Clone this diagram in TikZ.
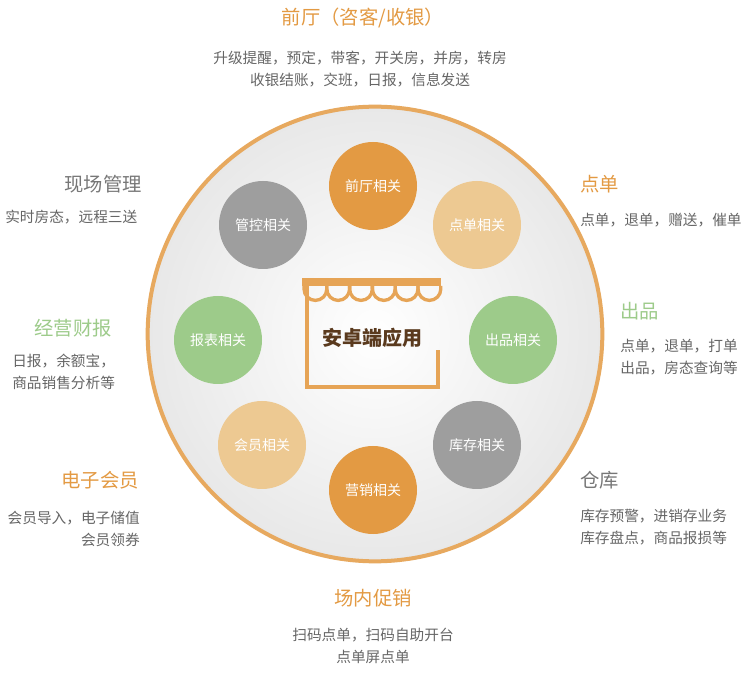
\documentclass[tikz,border=0pt]{standalone}
\usepackage{fontspec}
\setmainfont{Noto Sans CJK SC}
\usetikzlibrary{shadings}
\definecolor{cor}{HTML}{E39A43}
\definecolor{ctan}{HTML}{EDC992}
\definecolor{cgr}{HTML}{9DCB8A}
\definecolor{cgy}{HTML}{9E9E9E}
\definecolor{ctxt}{HTML}{666666}
\definecolor{ctit}{HTML}{777777}
\definecolor{cbrown}{HTML}{5A3A1E}
\begin{document}
\begin{tikzpicture}[x=0.75pt,y=-0.75pt,
  ball/.style={circle,minimum size=66pt,inner sep=0,text=white,font=\fontsize{10.5}{12}\selectfont},
  ttl/.style={font=\fontsize{14.5}{16}\selectfont,inner sep=0},
  dsc/.style={font=\fontsize{11}{16.5}\selectfont,text=ctxt,inner sep=0}]
\useasboundingbox (0,0) rectangle (750,673);
\fill[white] (0,0) rectangle (750,673);
\node[circle,minimum size=341pt,inner sep=0,draw=cor!85,line width=3pt,inner color=white,outer color=black!9] (big) at (375,334) {};
\node[ball,fill=cor] (qt) at (373,186) {前厅相关};
\node[ball,fill=ctan] (dd) at (477,225) {点单相关};
\node[ball,fill=cgr] (cp) at (513,340) {出品相关};
\node[ball,fill=cgy] (kc) at (477,445) {库存相关};
\node[ball,fill=cor] (yx) at (373,490) {营销相关};
\node[ball,fill=ctan] (hy) at (262,445) {会员相关};
\node[ball,fill=cgr] (bb) at (218,340) {报表相关};
\node[ball,fill=cgy] (gk) at (263,225) {管控相关};
% shop icon
\draw[cor!90,line width=3pt] (307,285) -- (307,387) -- (438,387) -- (438,350);
\fill[cor!90] (302,278) rectangle (441,286);
\foreach \i in {0,...,5}{
  \draw[cor!90,line width=2.5pt] ({304+\i*22.8},286) -- ({304+\i*22.8},289) arc[start angle=180,end angle=0,radius=11.4] -- ({304+(\i+1)*22.8},286);
}
\node[font=\bfseries\fontsize{15}{18}\selectfont,text=cbrown] (app) at (372,338) {安卓端应用};
% labels
\node[ttl,text=cor] (t1) at (363,18) {前厅（咨客/收银）};
\node[dsc,align=center] (d1) at (360,69) {升级提醒，预定，带客，开关房，并房，转房\\收银结账，交班，日报，信息发送};
\node[ttl,text=ctit] (t2) at (103,184) {现场管理};
\node[dsc,anchor=west] (d2) at (5,217) {实时房态，远程三送};
\node[ttl,text=cor,anchor=west] (t3) at (580,184) {点单};
\node[dsc,anchor=west] (d3) at (580,220) {点单，退单，赠送，催单};
\node[ttl,text=cgr,anchor=west] (t4) at (620,311) {出品};
\node[dsc,anchor=east,align=right] (d4) at (738,357) {点单，退单，打单\\出品，房态查询等};
\node[ttl,text=cgr] (t5) at (73,328) {经营财报};
\node[dsc,anchor=west,align=left] (d5) at (12,372) {日报，余额宝，\\商品销售分析等};
\node[ttl,text=cor] (t6) at (100,480) {电子会员};
\node[dsc,anchor=east,align=right] (d6) at (140,529) {会员导入，电子储值\\会员领券};
\node[ttl,text=ctit,anchor=west] (t7) at (580,480) {仓库};
\node[dsc,anchor=west,align=left] (d7) at (580,527) {库存预警，进销存业务\\库存盘点，商品报损等};
\node[ttl,text=cor] (t8) at (373,598) {场内促销};
\node[dsc,align=center] (d8) at (373,646) {扫码点单，扫码自助开台\\点单屏点单};
\end{tikzpicture}
\end{document}
